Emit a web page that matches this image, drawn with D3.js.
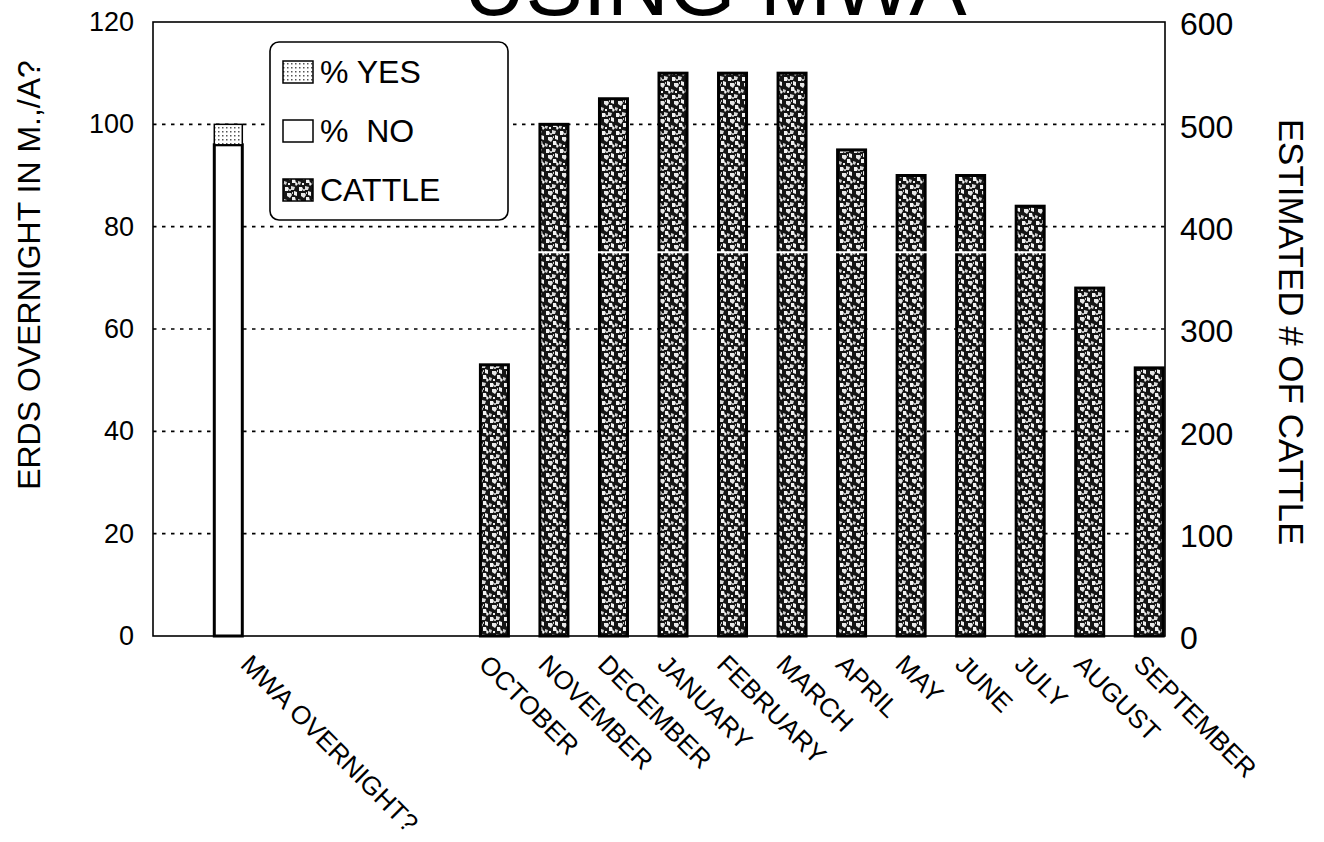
<!DOCTYPE html>
<html>
<head>
<meta charset="utf-8">
<script src="https://cdn.jsdelivr.net/npm/d3@7"></script>
<style>
  body { margin: 0; background: #fff; }
  text { font-family: "Liberation Sans", Arial, sans-serif; fill: #000; }
</style>
</head>
<body>
<div id="chart"></div>
<script>
// chart data
var categories = ["", "MWA OVERNIGHT?", "", "", "", "OCTOBER", "NOVEMBER", "DECEMBER",
  "JANUARY", "FEBRUARY", "MARCH", "APRIL", "MAY", "JUNE", "JULY", "AUGUST", "SEPTEMBER"];
var pctYes = [0, 4, 0, 0, 0, 0, 0, 0, 0, 0, 0, 0, 0, 0, 0, 0, 0];
var pctNo  = [0, 96, 0, 0, 0, 0, 0, 0, 0, 0, 0, 0, 0, 0, 0, 0, 0];
var cattle = [0, 0, 0, 0, 0, 265, 500, 525, 550, 550, 550, 475, 450, 450, 420, 340, 262];
var leftTicks = [0, 20, 40, 60, 80, 100, 120];
var rightTicks = [0, 100, 200, 300, 400, 500, 600];
var legendLabels = ["% YES", "%  NO", "CATTLE"];

var W = 1324, H = 842;
var margin = {top: 22, right: 159, bottom: 206, left: 153};
var width = W - margin.left - margin.right,
    height = H - margin.top - margin.bottom;

var svg = d3.select("#chart").append("svg")
    .attr("width", W)
    .attr("height", H);

// fill patterns (mottled scan look for cattle, stipple for % yes)
var defs = svg.append("defs");
var speck = defs.append("pattern")
    .attr("id", "speck")
    .attr("patternUnits", "userSpaceOnUse")
    .attr("width", 14).attr("height", 18);
speck.append("rect").attr("width", 14).attr("height", 18).attr("fill", "#151515");
[
  ["M1,1 l3,0 1,2 -1,2 -3,0 0,-2z", "#f2f2f2"],
  ["M7,0 l4,1 -1,3 -3,0z", "#dcdcdc"],
  ["M10,5 l3,1 0,4 -3,-1z", "#f2f2f2"],
  ["M3,7 l4,0 1,2 -2,3 -3,-2z", "#e8e8e8"],
  ["M8,11 l3,0 1,4 -4,0z", "#f2f2f2"],
  ["M0,13 l3,1 -1,3 -2,-1z", "#d0d0d0"],
  ["M12,14 l2,2 -2,2 -1,-2z", "#f2f2f2"],
  ["M5,3 l2,0 0,2 -2,0z", "#bbbbbb"],
  ["M4,15 l2,0 0,2 -2,0z", "#f2f2f2"],
  ["M8,6 l1,0 0,2 -1,0z", "#cccccc"]
].forEach(function(p) {
  speck.append("path").attr("d", p[0]).attr("fill", p[1]);
});

var dots = defs.append("pattern")
    .attr("id", "dots")
    .attr("patternUnits", "userSpaceOnUse")
    .attr("width", 4).attr("height", 4);
dots.append("rect").attr("width", 4).attr("height", 4).attr("fill", "#fff");
dots.append("rect").attr("x", 1).attr("y", 1).attr("width", 1.5).attr("height", 1.5).attr("fill", "#555");

var g = svg.append("g")
    .attr("transform", `translate(${margin.left}, ${margin.top})`);

// scales
var x = d3.scaleBand()
    .domain(d3.range(categories.length))
    .range([0, width]);
var barW = 28;
var xSub = d3.scaleBand()
    .domain(["pct", "cattle"])
    .range([x.bandwidth() / 2 - barW, x.bandwidth() / 2 + barW]);

var yL = d3.scaleLinear().domain([0, 120]).range([height, 0]);
var yR = d3.scaleLinear().domain([0, 600]).range([height, 0]);

// dotted grid lines
g.append("g")
  .selectAll("line")
  .data(leftTicks.filter(function(d) { return d > 0 && d < 120; }))
  .enter().append("line")
    .attr("x1", 0).attr("x2", width)
    .attr("y1", function(d) { return yL(d); })
    .attr("y2", function(d) { return yL(d); })
    .attr("stroke", "#000")
    .attr("stroke-width", 1.7)
    .attr("stroke-dasharray", "3.5,5.5");

// % NO / % YES stacked bar
var pctBars = g.append("g");
categories.forEach(function(c, i) {
  if (pctNo[i] + pctYes[i] <= 0) return;
  var bx = x(i) + xSub("pct");
  pctBars.append("rect")
    .attr("x", bx).attr("width", xSub.bandwidth())
    .attr("y", yL(pctNo[i]))
    .attr("height", yL(0) - yL(pctNo[i]))
    .attr("fill", "#fff").attr("stroke", "#000").attr("stroke-width", 3);
  pctBars.append("rect")
    .attr("x", bx).attr("width", xSub.bandwidth())
    .attr("y", yL(pctNo[i] + pctYes[i]))
    .attr("height", yL(pctNo[i]) - yL(pctNo[i] + pctYes[i]))
    .attr("fill", "url(#dots)").attr("stroke", "#000").attr("stroke-width", 1.5);
});

// cattle bars on the right axis
g.append("g")
  .selectAll("rect")
  .data(cattle.map(function(v, i) { return {i: i, v: v}; }).filter(function(d) { return d.v > 0; }))
  .enter().append("rect")
    .attr("x", function(d) { return x(d.i) + xSub("cattle"); })
    .attr("width", xSub.bandwidth())
    .attr("y", function(d) { return yR(d.v); })
    .attr("height", function(d) { return yR(0) - yR(d.v); })
    .attr("fill", "url(#speck)")
    .attr("stroke", "#000")
    .attr("stroke-width", 3);

// white scan break running across the bars
g.append("line")
  .attr("x1", x(5)).attr("x2", width - 2)
  .attr("y1", yR(375)).attr("y2", yR(375))
  .attr("stroke", "#fff").attr("stroke-width", 2);

// frame
g.append("rect")
  .attr("width", width).attr("height", height)
  .attr("fill", "none").attr("stroke", "#000").attr("stroke-width", 1.6);

// left axis labels
var axL = g.append("g")
  .call(d3.axisLeft(yL).tickValues(leftTicks).tickSize(0).tickPadding(19));
axL.select(".domain").remove();
axL.selectAll("text").attr("font-size", 27).attr("font-family", "Liberation Sans");

// right axis labels
var axR = g.append("g")
  .attr("transform", `translate(${width}, 0)`)
  .call(d3.axisRight(yR).tickValues(rightTicks).tickSize(0).tickPadding(15));
axR.select(".domain").remove();
axR.selectAll("text").attr("font-size", 32).attr("font-family", "Liberation Sans")
  .attr("dy", "0.4em");

// category labels, slanted
g.append("g")
  .selectAll("text")
  .data(categories.map(function(c, i) { return {i: i, c: c}; }).filter(function(d) { return d.c; }))
  .enter().append("text")
    .attr("transform", function(d) {
      return `translate(${x(d.i) + x.bandwidth() / 2 - 3}, ${height + 30}) rotate(45)`;
    })
    .attr("font-size", 26)
    .text(function(d) { return d.c; });

// axis titles
svg.append("text")
  .attr("transform", "translate(40, 275) rotate(-90)")
  .attr("text-anchor", "middle")
  .attr("font-size", 32)
  .text("ERDS OVERNIGHT IN M.,/A?");

svg.append("text")
  .attr("transform", "translate(1279, 332) rotate(90)")
  .attr("text-anchor", "middle")
  .attr("font-size", 35)
  .text("ESTIMATED # OF CATTLE");

// title, cut off by the top of the page as in the scan
svg.append("text")
  .attr("x", 715).attr("y", 15)
  .attr("text-anchor", "middle")
  .attr("font-size", 86)
  .text("USING MWA");

// legend
var lg = svg.append("g").attr("transform", "translate(270, 42)");
lg.append("rect")
  .attr("width", 238).attr("height", 178).attr("rx", 9)
  .attr("fill", "#fff").attr("stroke", "#000").attr("stroke-width", 1.6);
var swFill = ["url(#dots)", "#fff", "url(#speck)"];
legendLabels.forEach(function(t, k) {
  var yy = 19 + k * 59;
  lg.append("rect")
    .attr("x", 13).attr("y", yy).attr("width", 30).attr("height", 22)
    .attr("fill", swFill[k]).attr("stroke", "#000").attr("stroke-width", 1.5);
  lg.append("text")
    .attr("x", 50).attr("y", yy + 22)
    .attr("font-size", 32)
    .style("white-space", "pre")
    .text(t);
});
</script>
</body>
</html>
